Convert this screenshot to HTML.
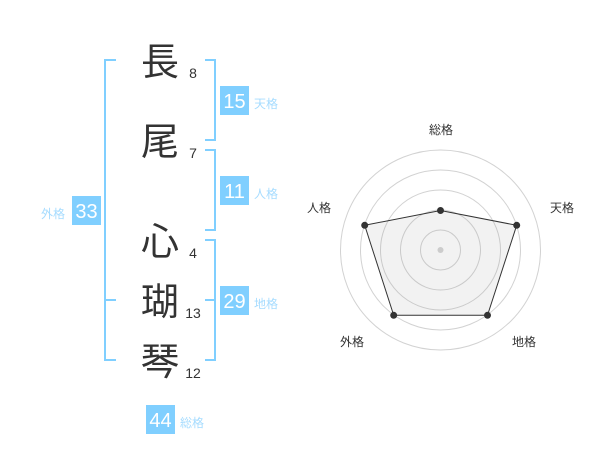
<!DOCTYPE html>
<html lang="ja"><head><meta charset="utf-8"><style>
html,body{margin:0;padding:0;background:#fff;width:600px;height:470px;overflow:hidden}
svg{display:block}
text{font-family:"Liberation Sans","WenQuanYi Zen Hei","Noto Sans CJK JP",sans-serif}
.k{font-family:"Noto Sans CJK JP",sans-serif;font-size:38px;fill:#333;text-anchor:middle}
.n{font-size:14px;fill:#333;text-anchor:middle}
.b{font-size:20px;fill:#fff;text-anchor:middle}
.l{font-size:12px;fill:#a6dcff;text-anchor:middle}
.r{font-size:12px;fill:#333;text-anchor:middle}
.br{fill:none;stroke:#80cfff;stroke-width:2}
.bx{fill:#80cfff}
.c{fill:none;stroke:#d2d2d2;stroke-width:1}
</style></head><body>
<svg width="600" height="470" viewBox="0 0 600 470" xmlns="http://www.w3.org/2000/svg">
<path class="br" d="M116 60H105V360H116M105 300H116"/>
<path class="br" d="M205 60H215V140H205"/>
<path class="br" d="M205 150H215V230H205"/>
<path class="br" d="M205 240H215V360H205M205 300H215"/>
<text class="k" x="160" y="75">長</text>
<text class="k" x="160" y="155">尾</text>
<text class="k" x="160" y="255">心</text>
<text class="k" x="160" y="315">瑚</text>
<text class="k" x="160" y="375">琴</text>
<text class="n" x="193" y="78">8</text>
<text class="n" x="193" y="158">7</text>
<text class="n" x="193" y="258">4</text>
<text class="n" x="193" y="318">13</text>
<text class="n" x="193" y="378">12</text>
<rect class="bx" x="220" y="86" width="29" height="29"/><text class="b" x="234.500" y="108">15</text>
<rect class="bx" x="220" y="176" width="29" height="29"/><text class="b" x="234.500" y="198">11</text>
<rect class="bx" x="72" y="196" width="29" height="29"/><text class="b" x="86.500" y="218">33</text>
<rect class="bx" x="220" y="286" width="29" height="29"/><text class="b" x="234.500" y="308">29</text>
<rect class="bx" x="146" y="405" width="29" height="29"/><text class="b" x="160.500" y="427">44</text>
<text class="l" x="266" y="108">天格</text>
<text class="l" x="266" y="198">人格</text>
<text class="l" x="53" y="218">外格</text>
<text class="l" x="266" y="308">地格</text>
<text class="l" x="192" y="427">総格</text>
<circle class="c" cx="440.500" cy="250" r="20"/>
<circle class="c" cx="440.500" cy="250" r="40"/>
<circle class="c" cx="440.500" cy="250" r="60"/>
<circle class="c" cx="440.500" cy="250" r="80"/>
<circle class="c" cx="440.500" cy="250" r="100"/>
<polygon points="440.500,210.500 516.700,225.300 487.500,315.300 393.700,315.300 364.700,225.300" fill="#999" fill-opacity=".13" stroke="#333" stroke-width="1"/>
<circle cx="440.500" cy="250" r="3" fill="#ccc"/>
<circle cx="440.500" cy="210.500" r="3.500" fill="#333"/>
<circle cx="516.700" cy="225.300" r="3.500" fill="#333"/>
<circle cx="487.500" cy="315.300" r="3.500" fill="#333"/>
<circle cx="393.700" cy="315.300" r="3.500" fill="#333"/>
<circle cx="364.700" cy="225.300" r="3.500" fill="#333"/>
<text class="r" x="441" y="134">総格</text>
<text class="r" x="562" y="212">天格</text>
<text class="r" x="319" y="212">人格</text>
<text class="r" x="352" y="346">外格</text>
<text class="r" x="524" y="346">地格</text>
</svg>
</body></html>
